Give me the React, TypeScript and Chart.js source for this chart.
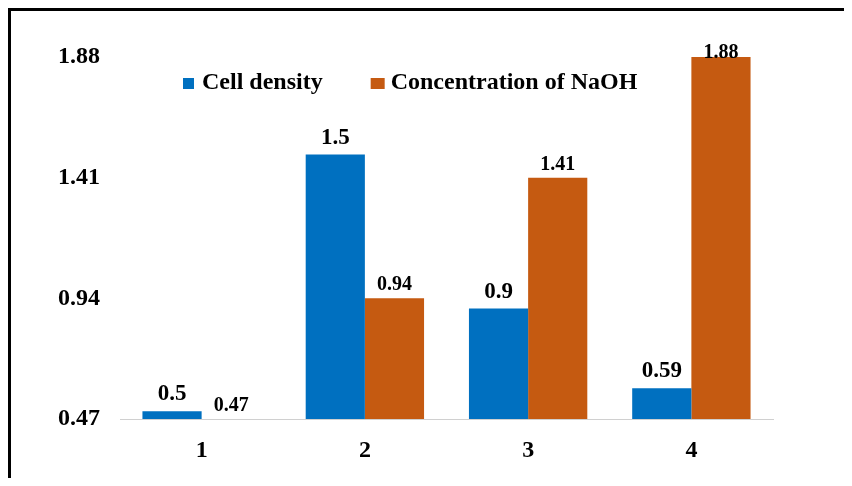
import React, { useEffect, useRef } from "react";
import { Chart, registerables } from "chart.js";

Chart.register(...registerables);

const categories = ["1", "2", "3", "4"];
const cellDensity = [0.5, 1.5, 0.9, 0.59];
const naohConcentration = [0.47, 0.94, 1.41, 1.88];
const yTicks = [0.47, 0.94, 1.41, 1.88];
const seriesNames = ["Cell density", "Concentration of NaOH"];
const seriesColors = ["#0070C0", "#C55A11"];

const FONT = '"Liberation Serif", "Times New Roman", serif';

const legendPlugin = {
  id: "insideLegend",
  afterDraw(chart: any) {
    const { ctx, chartArea } = chart;
    ctx.save();
    ctx.font = `bold 24px ${FONT}`;
    ctx.textBaseline = "alphabetic";
    ctx.textAlign = "left";
    let x = chartArea.left + 63;
    const boxTop = chartArea.top + 21;
    const baseline = chartArea.top + 32;
    chart.data.datasets.forEach((ds: any, i: number) => {
      ctx.fillStyle = ds.backgroundColor;
      ctx.fillRect(x, boxTop, i === 0 ? 11 : 14, 11);
      x += i === 0 ? 19 : 20;
      ctx.fillStyle = "#000";
      ctx.fillText(ds.label, x, baseline);
      x += ctx.measureText(ds.label).width + 48;
    });
    ctx.restore();
  },
};

const valueLabelPlugin = {
  id: "valueLabels",
  afterDatasetsDraw(chart: any) {
    const { ctx, chartArea } = chart;
    ctx.save();
    ctx.fillStyle = "#000";
    ctx.textAlign = "center";
    ctx.textBaseline = "alphabetic";
    chart.data.datasets.forEach((ds: any, i: number) => {
      const meta = chart.getDatasetMeta(i);
      ctx.font = `bold ${i === 0 ? 23 : 20}px ${FONT}`;
      meta.data.forEach((el: any, j: number) => {
        const y = Math.max(el.y - (i === 0 ? 11 : 8), chartArea.top + 1);
        ctx.fillText(String(ds.data[j]), el.x, y);
      });
    });
    ctx.restore();
  },
};

export default function App() {
  const canvasRef = useRef<HTMLCanvasElement | null>(null);

  useEffect(() => {
    document.documentElement.style.overflow = "hidden";
    document.body.style.overflow = "hidden";
    if (!canvasRef.current) return;
    const chart = new Chart(canvasRef.current, {
      type: "bar",
      data: {
        labels: categories,
        datasets: [
          {
            label: seriesNames[0],
            data: cellDensity,
            backgroundColor: seriesColors[0],
            borderWidth: 0,
            categoryPercentage: 0.725,
            barPercentage: 1,
          },
          {
            label: seriesNames[1],
            data: naohConcentration,
            backgroundColor: seriesColors[1],
            borderWidth: 0,
            categoryPercentage: 0.725,
            barPercentage: 1,
          },
        ],
      },
      options: {
        animation: false,
        responsive: true,
        maintainAspectRatio: false,
        layout: { padding: { top: 46, right: 79, left: 0, bottom: 0 } },
        plugins: {
          legend: { display: false },
          tooltip: { enabled: false },
        },
        scales: {
          x: {
            grid: { display: false, drawTicks: false },
            border: { display: true, color: "#d0d0d0", width: 1 },
            ticks: {
              color: "#000",
              font: { family: FONT, size: 24, weight: "bold" },
              padding: 17,
            },
            afterFit(scale: any) {
              scale.height = 59;
            },
          },
          y: {
            min: 0.47,
            max: 1.88,
            grid: { display: false, drawTicks: false },
            border: { display: false },
            ticks: {
              color: "#000",
              font: { family: FONT, size: 24, weight: "bold" },
              padding: 20,
              callback: (v: any) => String(v),
            },
            afterBuildTicks(scale: any) {
              scale.ticks = yTicks.map((v) => ({ value: v }));
            },
            afterFit(scale: any) {
              scale.width = 109;
            },
          },
        },
      },
      plugins: [valueLabelPlugin, legendPlugin],
    });
    return () => chart.destroy();
  }, []);

  return (
    <div
      style={{
        borderTop: "3px solid #000",
        borderLeft: "3px solid #000",
        width: 841,
        height: 467,
        position: "relative",
        background: "#fff",
      }}
    >
      <canvas ref={canvasRef} />
    </div>
  );
}
